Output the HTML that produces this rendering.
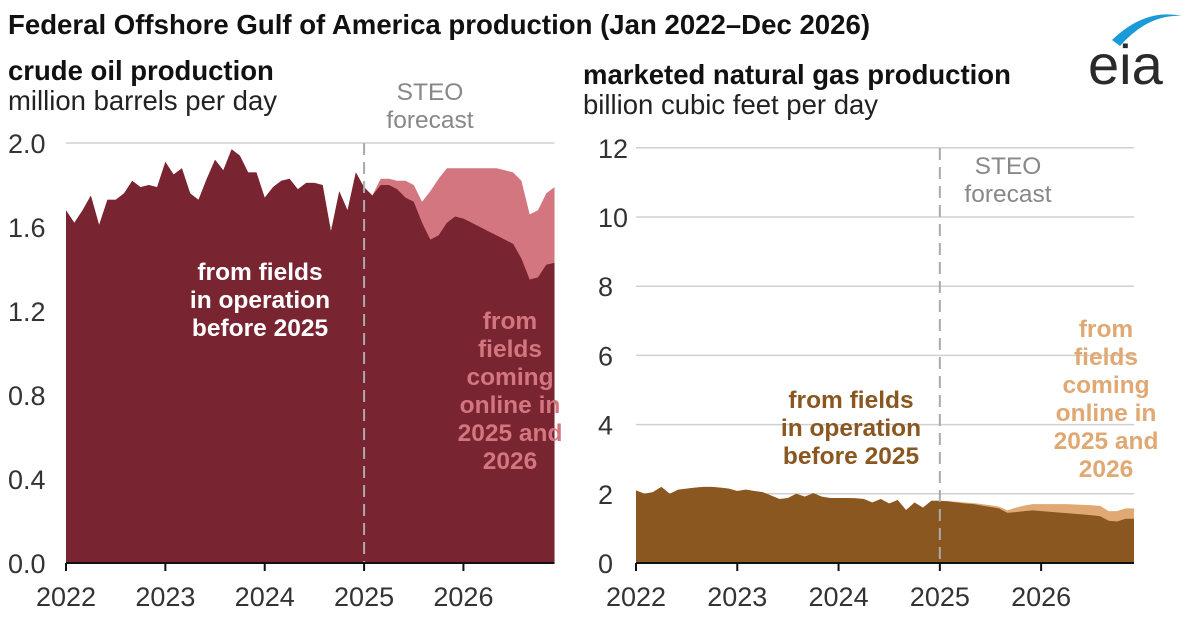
<!DOCTYPE html>
<html><head><meta charset="utf-8"><style>
body{margin:0;width:1199px;height:615px;background:#fff;font-family:"Liberation Sans",sans-serif;overflow:hidden}
svg text{font-family:"Liberation Sans",sans-serif}
</style></head><body>
<svg id="c" width="1199" height="615">
<text x="8" y="34" font-size="27.5" font-weight="bold" fill="#111" textLength="862" lengthAdjust="spacingAndGlyphs">Federal Offshore Gulf of America production (Jan 2022–Dec 2026)</text>
<g>
<path d="M1112 40 Q1145 8 1182 16 Q1148 14 1120 46 Z" fill="#1a9ad6"/>
<text x="1088" y="84" font-size="56" fill="#2a2a2a">eia</text>
</g>
<text x="8" y="80" font-size="27.5" font-weight="bold" fill="#111">crude oil production</text>
<text x="8" y="110" font-size="27.5" fill="#222">million barrels per day</text>
<text x="583" y="84" font-size="27.5" font-weight="bold" fill="#111">marketed natural gas production</text>
<text x="583" y="114" font-size="27.5" fill="#222">billion cubic feet per day</text>
<g id="L"></g><g id="R"></g>
</svg>
<script>
const years=["2022","2023","2024","2025","2026"];
const oilTicks=[0,0.4,0.8,1.2,1.6,2.0];
const gasTicks=[0,2,4,6,8,10,12];
const oilHist=[1.68,1.62,1.68,1.75,1.61,1.73,1.73,1.76,1.82,1.79,1.80,1.79,
1.91,1.85,1.88,1.76,1.73,1.83,1.92,1.87,1.97,1.94,1.86,1.86,
1.74,1.79,1.82,1.83,1.78,1.81,1.81,1.80,1.58,1.77,1.68,1.86];
const oilBase=[1.79,1.75,1.80,1.80,1.78,1.74,1.72,1.62,1.54,1.56,1.62,1.65,
1.64,1.62,1.60,1.58,1.56,1.54,1.52,1.45,1.35,1.36,1.42,1.43];
const oilTotal=[1.79,1.75,1.83,1.83,1.82,1.82,1.80,1.72,1.77,1.83,1.88,1.88,
1.88,1.88,1.88,1.88,1.88,1.87,1.86,1.82,1.66,1.68,1.76,1.79];
const gasHist=[2.1,2.0,2.05,2.2,2.0,2.12,2.15,2.18,2.2,2.2,2.18,2.15,
2.08,2.12,2.08,2.05,1.95,1.85,1.88,2.0,1.92,2.02,1.92,1.88,
1.88,1.88,1.87,1.85,1.75,1.85,1.72,1.82,1.53,1.75,1.6,1.8];
const gasBase=[1.8,1.78,1.75,1.72,1.7,1.66,1.62,1.58,1.45,1.47,1.5,1.52,
1.5,1.48,1.46,1.44,1.42,1.4,1.38,1.35,1.22,1.2,1.28,1.28];
const gasTotal=[1.8,1.79,1.77,1.75,1.73,1.7,1.67,1.63,1.52,1.6,1.66,1.7,
1.7,1.7,1.7,1.7,1.69,1.68,1.67,1.65,1.5,1.5,1.58,1.58];
const NS="http://www.w3.org/2000/svg";
function mk(p,t,a){const e=document.createElementNS(NS,t);for(const k in a)e.setAttribute(k,a[k]);p.appendChild(e);return e;}
function panel(g,cfg){
 const x=m=>cfg.x0+m*cfg.mw, y=v=>cfg.y0-v*cfg.ys;
 cfg.ticks.forEach(t=>{
  if(t>0){const l=mk(g,'line',{x1:cfg.x0,x2:cfg.x0+59*cfg.mw,y1:y(t),y2:y(t),stroke:'#d0d0d0','stroke-width':1.5});
  
  }
  const tx=mk(g,'text',{x:cfg.lx,y:y(t)+10,'font-size':27,fill:'#333','text-anchor':'start'});tx.textContent=cfg.fmt(t);
  
  
 });
 const all=cfg.hist.concat(cfg.total), base=cfg.hist.concat(cfg.base);
 let d='M'+x(0)+','+y(0);all.forEach((v,i)=>d+=' L'+x(i)+','+y(v));d+=' L'+x(59)+','+y(0)+'Z';
 const a1=mk(g,'path',{d:d,fill:cfg.c2});
 
 
 d='M'+x(0)+','+y(0);base.forEach((v,i)=>d+=' L'+x(i)+','+y(v));d+=' L'+x(59)+','+y(0)+'Z';
 const a2=mk(g,'path',{d:d,fill:cfg.c1});
 
 
 const dl=mk(g,'line',{x1:x(36),x2:x(36),y1:cfg.dashTop,y2:y(0),stroke:'#aaa','stroke-width':2,'stroke-dasharray':'12,7'});
 
 
 const ax=mk(g,'line',{x1:x(0),x2:x(59),y1:y(0),y2:y(0),stroke:'#111','stroke-width':2});
 
 
 years.forEach((yr,i)=>{
  const tk=mk(g,'line',{x1:x(i*12),x2:x(i*12),y1:y(0),y2:y(0)+8,stroke:'#111','stroke-width':2});
  
  
  const t=mk(g,'text',{x:x(i*12),y:y(0)+43,'font-size':27,fill:'#333','text-anchor':'middle'});t.textContent=yr;
  
  
 });
}
panel(document.getElementById('L'),{x0:66,mw:8.28,y0:563,ys:210,ticks:oilTicks,lx:8,fmt:t=>t.toFixed(1),hist:oilHist,base:oilBase,total:oilTotal,c1:'#782431',c2:'#d47680',dashTop:143});
panel(document.getElementById('R'),{x0:636,mw:8.44,y0:563,ys:34.6,ticks:gasTicks,lx:598,fmt:t=>String(t),hist:gasHist,base:gasBase,total:gasTotal,c1:'#8a5720',c2:'#e0a872',dashTop:148});
function lab(lines,x,y,col,w,nm,lh,fs){const t=mk(document.getElementById('c'),'text',{x:x,y:y,'font-size':fs,'font-weight':w,fill:col,'text-anchor':'middle'});
 
 
 lines.forEach((s,i)=>{const ts=mk(t,'tspan',{x:x,dy:i?lh:0});ts.textContent=s;});}
lab(['from fields','in operation','before 2025'],260,280,'#fff','bold','label-existing-oil',28,24.5);
lab(['from','fields','coming','online in','2025 and','2026'],510,329,'#d47680','bold','label-new-oil',28,24.5);
lab(['STEO','forecast'],430,100,'#888','normal','steo-label-oil',28,24.5);
lab(['from fields','in operation','before 2025'],851,408,'#8a5720','bold','label-existing-gas',28,24.5);
lab(['from','fields','coming','online in','2025 and','2026'],1106,337,'#e0a872','bold','label-new-gas',28,24.5);
lab(['STEO','forecast'],1008,174,'#888','normal','steo-label-gas',28,24.5);
</script>
</body></html>
